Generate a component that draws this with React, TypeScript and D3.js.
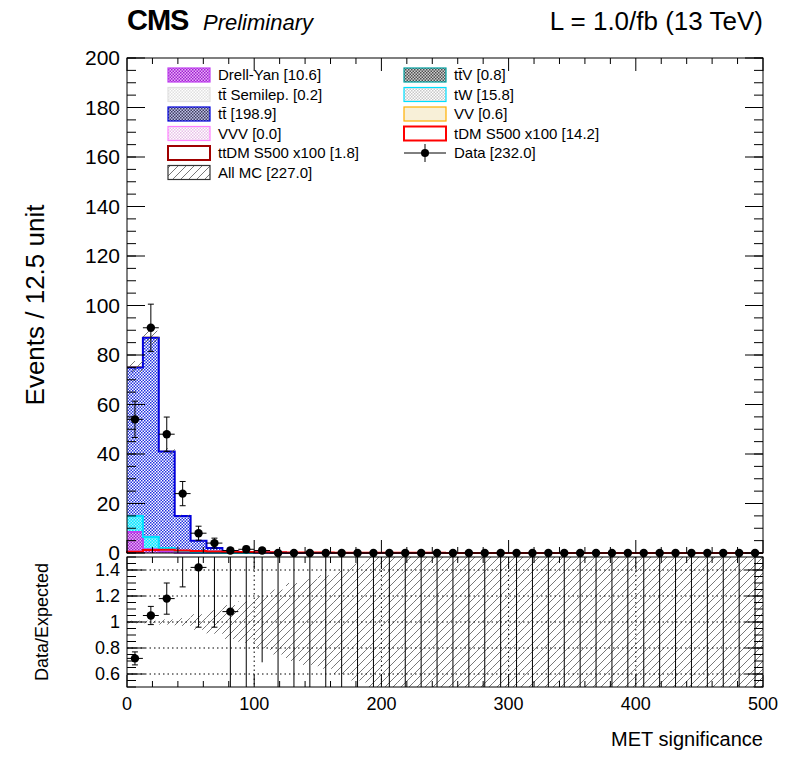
import React from 'react';
import * as d3 from 'd3';

const binWidth = 12.5;
const nBins = 40;
const edges = d3.range(0, nBins + 1).map(i => i * binWidth);

// stacked backgrounds, first bins (rest ~0)
const dyVals = [8.5, 1.5, 0.5, 0.1];
const twVals = [6.5, 5.0, 1.5, 0.6, 0.2, 0.1];
const ttVals = [60, 80.5, 39, 14.3, 4.8, 1.9, 0.7, 0.4, 0.2, 0.1];
const vvVals = [0.3, 0.2, 0.1];
const tdmVals = [0.5, 1.2, 1.3, 1.0, 0.8, 0.6, 0.5, 0.4, 0.3, 0.3, 0.2, 0.2, 0.2, 0.1, 0.1, 0.1, 0.1, 0.1, 0.1, 0.1];
const dataVals = [54, 91, 48, 24, 8, 4, 1, 1.5, 1];
// ratio panel
const ratioVals = [0.72, 1.05, 1.18, 1.6, 1.42, 1.6, 1.08];
const ratioErrLo = [0.05, 0.07, 0.12, 0.33, 0.46, 0.64, 0.82];
const ratioErrHi = [0.05, 0.07, 0.12, 0.33, 0.46, 0.64, 0.82];
const mcUnc = [0.01, 0.01, 0.02, 0.03, 0.06, 0.09, 0.13, 0.16, 0.2, 0.25, 0.3, 0.33, 0.36, 0.4, 0.45, 0.6, 0.7, 0.9, 1, 1];

const legendItems = [
  { label: 'Drell-Yan [10.6]', kind: 'dy' },
  { label: 'tt̄V [0.8]', kind: 'ttv' },
  { label: 'tt̄ Semilep. [0.2]', kind: 'semi' },
  { label: 'tW [15.8]', kind: 'tw' },
  { label: 'tt̄ [198.9]', kind: 'tt' },
  { label: 'VV [0.6]', kind: 'vv' },
  { label: 'VVV [0.0]', kind: 'vvv' },
  { label: 'tDM S500 x100 [14.2]', kind: 'tdm' },
  { label: 'ttDM S500 x100 [1.8]', kind: 'ttdm' },
  { label: 'Data [232.0]', kind: 'data' },
  { label: 'All MC [227.0]', kind: 'mc' },
];

const get = (a: number[], i: number) => (i < a.length ? a[i] : 0);

const App: React.FC = () => {
  const x = d3.scaleLinear().domain([0, 500]).range([127, 763]);
  const y = d3.scaleLinear().domain([0, 200]).range([553, 58]);
  const yr = d3.scaleLinear().domain([0.5, 1.5]).range([687, 557]);
  const font = 'Liberation Sans, Arial, sans-serif';

  const layers = [
    { vals: dyVals, fill: 'url(#pDY)', stroke: '#c040f0', z: 0 },
    { vals: twVals, fill: 'url(#pTW)', stroke: '#00e0ff', z: 1 },
    { vals: ttVals, fill: 'url(#pTT)', stroke: '#0000e0', z: 3 },
    { vals: vvVals, fill: '#f8f0d8', stroke: '#ffb000', z: 2 },
  ];
  const bins = d3.range(nBins);
  let cum = bins.map(() => 0);
  const stackRects: JSX.Element[] = [];
  const outlines: { z: number; el: JSX.Element }[] = [];
  layers.forEach((l, li) => {
    const lo = cum.slice();
    cum = cum.map((c, i) => c + get(l.vals, i));
    bins.forEach(i => {
      const v = get(l.vals, i);
      if (v <= 0) return;
      stackRects.push(<rect key={`s${li}-${i}`} x={x(edges[i])} y={y(cum[i])} width={x(edges[i + 1]) - x(edges[i])} height={y(lo[i]) - y(cum[i])} fill={l.fill} />);
    });
    const top = l.z === 3 ? cum.map((c, i) => c - get(vvVals, i) * 0) : cum.slice();
    let d = '';
    bins.forEach(i => {
      const t = top[i];
      d += `${i === 0 ? 'M' : 'L'}${x(edges[i])},${y(t)}L${x(edges[i + 1])},${y(t)}`;
    });
    outlines.push({ z: l.z, el: <path key={`o${li}`} d={d} fill="none" stroke={l.stroke} strokeWidth={l.z === 2 ? 1 : 2} /> });
  });
  outlines.sort((a, b) => a.z - b.z);
  const total = cum;
  const stepPath = (vals: number[], ys: (v: number) => number) => {
    let d = `M${x(0)},${ys(0)}`;
    bins.forEach(i => { d += `L${x(edges[i])},${ys(get(vals, i))}L${x(edges[i + 1])},${ys(get(vals, i))}`; });
    return d;
  };

  const xTicks = d3.range(0, 501, 100);
  const xMinor = d3.range(0, 501, 20);
  const yTicks = d3.range(0, 201, 20);
  const yMinor = d3.range(0, 201, 5);
  const rTicks = [0.6, 0.8, 1, 1.2, 1.4];
  const rMinor = d3.range(0.5, 1.51, 0.05);

  const legX = [168, 404];
  const legY0 = 75;
  const legDy = 19.5;

  const swatch = (kind: string, sx: number, sy: number) => {
    const w = 42, h = 14;
    if (kind === 'data') return (<g><line x1={sx} x2={sx + w} y1={sy + h / 2} y2={sy + h / 2} stroke="#000" /><line x1={sx + w / 2} x2={sx + w / 2} y1={sy - 2} y2={sy + h + 2} stroke="#000" /><circle cx={sx + w / 2} cy={sy + h / 2} r={4} /></g>);
    const map: Record<string, [string, string]> = {
      dy: ['url(#pDY)', '#c040f0'], ttv: ['url(#pTTV)', '#00a0a0'], semi: ['url(#pGrey)', '#e0e0e0'], tw: ['url(#pTW2)', '#00e0ff'],
      tt: ['url(#pTT2)', '#0000e0'], vv: ['#f8f0d8', '#ffb000'], vvv: ['url(#pVVV)', '#ff80ff'], tdm: ['#fff', '#ff0000'], ttdm: ['#fff', '#a00000'], mc: ['url(#pHatch)', '#333'],
    };
    const [f, s] = map[kind];
    return <rect x={sx} y={sy} width={w} height={h} fill={f} stroke={s} strokeWidth={kind === 'tdm' || kind === 'ttdm' ? 2 : 1.2} />;
  };

  return (
    <svg width={796} height={772} style={{ display: 'block', margin: -8 }} fontFamily={font}>
      <defs>
        <pattern id="pTT" width={3} height={3} patternUnits="userSpaceOnUse"><rect width={3} height={3} fill="#fff" /><rect width={1.5} height={1.5} fill="#2030e0" /><rect x={1.5} y={1.5} width={1.5} height={1.5} fill="#2030e0" /></pattern>
        <pattern id="pTT2" width={3} height={3} patternUnits="userSpaceOnUse"><rect width={3} height={3} fill="#c0c0e8" /><rect width={1.5} height={1.5} fill="#404060" /><rect x={1.5} y={1.5} width={1.5} height={1.5} fill="#404060" /></pattern>
        <pattern id="pDY" width={3} height={3} patternUnits="userSpaceOnUse"><rect width={3} height={3} fill="#e8b0f8" /><rect width={1.5} height={1.5} fill="#a020d0" /><rect x={1.5} y={1.5} width={1.5} height={1.5} fill="#a020d0" /></pattern>
        <pattern id="pTW" width={3} height={3} patternUnits="userSpaceOnUse"><rect width={3} height={3} fill="#00e8ff" /><rect width={1.5} height={1.5} fill="#a0f0ff" /><rect x={1.5} y={1.5} width={1.5} height={1.5} fill="#a0f0ff" /></pattern>
        <pattern id="pTW2" width={3} height={3} patternUnits="userSpaceOnUse"><rect width={3} height={3} fill="#fff" /><rect width={1.5} height={1.5} fill="#c8c8c8" /><rect x={1.5} y={1.5} width={1.5} height={1.5} fill="#c8c8c8" /></pattern>
        <pattern id="pTTV" width={3} height={3} patternUnits="userSpaceOnUse"><rect width={3} height={3} fill="#d0d0d0" /><rect width={1.5} height={1.5} fill="#505050" /><rect x={1.5} y={1.5} width={1.5} height={1.5} fill="#505050" /></pattern>
        <pattern id="pGrey" width={3} height={3} patternUnits="userSpaceOnUse"><rect width={3} height={3} fill="#fff" /><rect width={1.5} height={1.5} fill="#e0e0e0" /><rect x={1.5} y={1.5} width={1.5} height={1.5} fill="#e0e0e0" /></pattern>
        <pattern id="pVVV" width={3} height={3} patternUnits="userSpaceOnUse"><rect width={3} height={3} fill="#fff" /><rect width={1.5} height={1.5} fill="#e8c0e8" /><rect x={1.5} y={1.5} width={1.5} height={1.5} fill="#e8c0e8" /></pattern>
        <pattern id="pHatch" width={8} height={8} patternUnits="userSpaceOnUse"><path d="M0,8 L8,0 M-2,2 L2,-2 M6,10 L10,6" stroke="#555" strokeWidth={0.8} /></pattern>
        <clipPath id="cr"><rect x={127} y={557} width={636} height={130} /></clipPath>
      </defs>

      {/* main pad */}
      {stackRects}
      {outlines.map(o => o.el)}
      {bins.map(i => total[i] > 0 && (
        <rect key={`h${i}`} x={x(edges[i])} y={y(total[i] * 1.03)} width={x(edges[i + 1]) - x(edges[i])} height={y(total[i] * 0.97) - y(total[i] * 1.03)} fill="url(#pHatch)" />
      ))}
      <path d={stepPath(tdmVals, y)} fill="none" stroke="#ff0000" strokeWidth={2} />
      {bins.map(i => {
        const v = get(dataVals, i);
        const cx = x(edges[i] + binWidth / 2);
        const e = Math.sqrt(v);
        return (
          <g key={`d${i}`}>
            <line x1={x(edges[i])} x2={x(edges[i + 1])} y1={y(v)} y2={y(v)} stroke="#000" />
            {v > 0 && <line x1={cx} x2={cx} y1={y(v + e)} y2={y(Math.max(v - e, 0))} stroke="#000" />}
            {v > 0 && <><line x1={cx - 3} x2={cx + 3} y1={y(v + e)} y2={y(v + e)} stroke="#000" /><line x1={cx - 3} x2={cx + 3} y1={y(Math.max(v - e, 0))} y2={y(Math.max(v - e, 0))} stroke="#000" /></>}
            <circle cx={cx} cy={y(v)} r={4.2} fill="#000" />
          </g>
        );
      })}
      <rect x={127} y={y(200)} width={636} height={y(0) - y(200)} fill="none" stroke="#000" />
      {yTicks.map(t => (
        <g key={`yt${t}`}>
          <line x1={127} x2={145} y1={y(t)} y2={y(t)} stroke="#000" />
          <line x1={745} x2={763} y1={y(t)} y2={y(t)} stroke="#000" />
          <text x={120} y={y(t) + 7} textAnchor="end" fontSize={21}>{t}</text>
        </g>
      ))}
      {yMinor.map(t => (
        <g key={`ym${t}`}>
          <line x1={127} x2={136} y1={y(t)} y2={y(t)} stroke="#000" />
          <line x1={754} x2={763} y1={y(t)} y2={y(t)} stroke="#000" />
        </g>
      ))}
      {xMinor.map(t => (
        <g key={`xm${t}`}>
          <line x1={x(t)} x2={x(t)} y1={553} y2={t % 100 === 0 ? 540 : 547} stroke="#000" />
          <line x1={x(t)} x2={x(t)} y1={58} y2={t % 100 === 0 ? 71 : 64} stroke="#000" />
        </g>
      ))}
      <text transform="translate(44,305) rotate(-90)" textAnchor="middle" fontSize={26}>Events / 12.5 unit</text>

      {/* legend */}
      {legendItems.map((it, k) => {
        const col = k % 2;
        const row = Math.floor(k / 2);
        const lx = legX[col];
        const ly = legY0 + row * legDy;
        return (
          <g key={it.label}>
            {swatch(it.kind, lx, ly - 7)}
            <text x={lx + 50} y={ly + 5} fontSize={15}>{it.label}</text>
          </g>
        );
      })}

      <text x={127} y={30} fontSize={29} fontWeight="bold" letterSpacing={-1}>CMS</text>
      <text x={203} y={30} fontSize={22} fontStyle="italic">Preliminary</text>
      <text x={763} y={30} fontSize={26} textAnchor="end">L = 1.0/fb (13 TeV)</text>

      {/* ratio pad */}
      <g clipPath="url(#cr)">
        {bins.map(i => {
          const u = get(mcUnc, i) || 1;
          return <rect key={`u${i}`} x={x(edges[i])} y={yr(1 + u)} width={x(edges[i + 1]) - x(edges[i])} height={yr(1 - u) - yr(1 + u)} fill="url(#pHatch)" />;
        })}
        {rTicks.map(t => <line key={`rg${t}`} x1={127} x2={763} y1={yr(t)} y2={yr(t)} stroke="#000" strokeDasharray="1.5,3" />)}
        {[100, 200, 300, 400].map(t => <line key={`vg${t}`} x1={x(t)} x2={x(t)} y1={557} y2={687} stroke="#000" strokeDasharray="1.5,3" />)}
        {bins.map(i => {
          const cx = x(edges[i] + binWidth / 2);
          if (i < ratioVals.length) {
            const v = ratioVals[i];
            return (
              <g key={`r${i}`}>
                <line x1={cx} x2={cx} y1={yr(v + ratioErrHi[i])} y2={yr(v - ratioErrLo[i])} stroke="#000" />
                <line x1={cx - 3} x2={cx + 3} y1={yr(v - ratioErrLo[i])} y2={yr(v - ratioErrLo[i])} stroke="#000" />
                <line x1={cx - 3} x2={cx + 3} y1={yr(v + ratioErrHi[i])} y2={yr(v + ratioErrHi[i])} stroke="#000" />
                <line x1={x(edges[i])} x2={x(edges[i + 1])} y1={yr(v)} y2={yr(v)} stroke="#000" />
                <circle cx={cx} cy={yr(v)} r={4.2} />
              </g>
            );
          }
          if (i === 8) return <line key={`r${i}`} x1={cx} x2={cx} y1={557} y2={yr(0.69)} stroke="#000" />;
          if (i === 7) return <line key={`r${i}`} x1={cx} x2={cx} y1={557} y2={yr(0.5)} stroke="#000" />;
          return <line key={`r${i}`} x1={cx} x2={cx} y1={557} y2={687} stroke="#000" />;
        })}
      </g>
      <rect x={127} y={557} width={636} height={130} fill="none" stroke="#000" />
      {rTicks.map(t => (
        <g key={`rt${t}`}>
          <line x1={127} x2={145} y1={yr(t)} y2={yr(t)} stroke="#000" />
          <line x1={745} x2={763} y1={yr(t)} y2={yr(t)} stroke="#000" />
          <text x={120} y={yr(t) + 6} textAnchor="end" fontSize={18}>{t}</text>
        </g>
      ))}
      {rMinor.map(t => (
        <g key={`rm${t.toFixed(2)}`}>
          <line x1={127} x2={136} y1={yr(t)} y2={yr(t)} stroke="#000" />
          <line x1={754} x2={763} y1={yr(t)} y2={yr(t)} stroke="#000" />
        </g>
      ))}
      {xMinor.map(t => (
        <g key={`rxm${t}`}>
          <line x1={x(t)} x2={x(t)} y1={687} y2={t % 100 === 0 ? 675 : 681} stroke="#000" />
          <line x1={x(t)} x2={x(t)} y1={557} y2={t % 100 === 0 ? 569 : 563} stroke="#000" />
        </g>
      ))}
      {xTicks.map(t => <text key={`xl${t}`} x={x(t)} y={710} textAnchor="middle" fontSize={18}>{t}</text>)}
      <text x={763} y={746} textAnchor="end" fontSize={20}>MET significance</text>
      <text transform="translate(48,622) rotate(-90)" textAnchor="middle" fontSize={18}>Data/Expected</text>
    </svg>
  );
};

export default App;
